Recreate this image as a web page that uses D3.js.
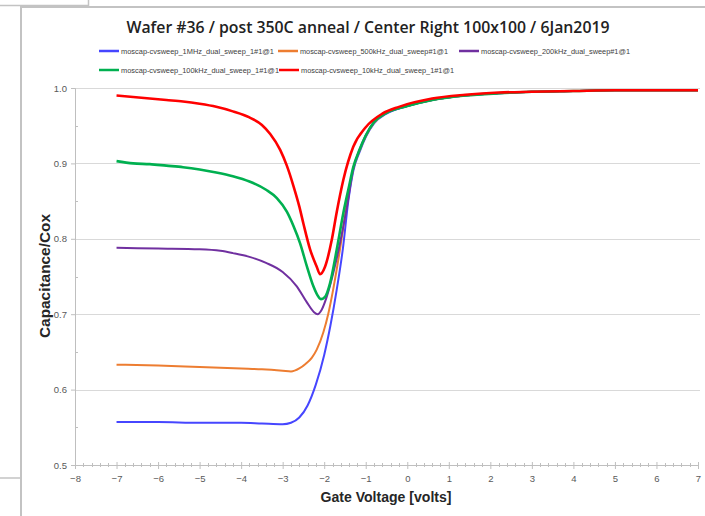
<!DOCTYPE html>
<html>
<head>
<meta charset="utf-8">
<script src="https://cdn.jsdelivr.net/npm/d3@7/dist/d3.min.js"></script>
<style>
  html, body { margin: 0; padding: 0; background: #fff; }
  svg { display: block; }
</style>
</head>
<body>
<svg id="chart" width="705" height="516"></svg>
<script>
// C-V sweeps of a MOS capacitor, normalised capacitance vs gate voltage
const titleText = "Wafer #36 / post 350C anneal / Center Right 100x100 / 6Jan2019";
const xTicks = [-8, -7, -6, -5, -4, -3, -2, -1, 0, 1, 2, 3, 4, 5, 6, 7];
const yTicks = [0.5, 0.6, 0.7, 0.8, 0.9, 1.0];
const seriesNames = [
  "moscap-cvsweep_1MHz_dual_sweep_1#1@1",
  "moscap-cvsweep_500kHz_dual_sweep#1@1",
  "moscap-cvsweep_200kHz_dual_sweep#1@1",
  "moscap-cvsweep_100kHz_dual_sweep_1#1@1",
  "moscap-cvsweep_10kHz_dual_sweep_1#1@1"
];
const seriesColors = ["#4646ff", "#ed7d31", "#7030a0", "#00b050", "#ff0000"];

// 1 MHz
const v1MHz = [-7, -6, -5, -4, -3.5, -3, -2.8, -2.6, -2.4, -2.2, -2.0, -1.85, -1.7, -1.55, -1.42, -1.3, -1.15, -1.0, -0.8, -0.5, 0, 0.6, 1.4, 2.2, 3, 4, 5, 6, 7];
const c1MHz = [0.557, 0.557, 0.556, 0.556, 0.555, 0.554, 0.556, 0.563, 0.579, 0.607, 0.646, 0.685, 0.732, 0.787, 0.850, 0.890, 0.915, 0.935, 0.953, 0.966, 0.976, 0.984, 0.990, 0.993, 0.995, 0.996, 0.997, 0.997, 0.997];
// 500 kHz
const v500k = [-7, -6, -5, -4, -3.5, -3, -2.8, -2.6, -2.45, -2.3, -2.18, -2.02, -1.9, -1.78, -1.62, -1.46, -1.3, -1.15, -1.0, -0.8, -0.5, 0, 0.6, 1.4, 2.2, 3, 4, 5, 6, 7];
const c500k = [0.633, 0.632, 0.630, 0.628, 0.627, 0.625, 0.624, 0.628, 0.634, 0.642, 0.653, 0.676, 0.701, 0.734, 0.786, 0.845, 0.893, 0.917, 0.936, 0.954, 0.967, 0.976, 0.984, 0.990, 0.993, 0.995, 0.996, 0.997, 0.997, 0.997];
// 200 kHz
const v200k = [-7, -6, -5, -4.5, -4.2, -3.8, -3.4, -3.0, -2.66, -2.42, -2.25, -2.16, -2.06, -1.94, -1.78, -1.62, -1.46, -1.3, -1.15, -1.0, -0.8, -0.5, 0, 0.6, 1.4, 2.2, 3, 4, 5, 6, 7];
const c200k = [0.788, 0.787, 0.786, 0.784, 0.781, 0.776, 0.768, 0.756, 0.737, 0.716, 0.703, 0.700, 0.706, 0.723, 0.755, 0.794, 0.840, 0.893, 0.918, 0.937, 0.955, 0.967, 0.976, 0.984, 0.990, 0.993, 0.995, 0.996, 0.997, 0.997, 0.997];
// 100 kHz
const v100k = [-7, -6.6, -6.2, -5.8, -5.4, -5, -4.6, -4.2, -3.8, -3.4, -3.14, -2.9, -2.74, -2.58, -2.42, -2.26, -2.16, -2.08, -1.98, -1.86, -1.70, -1.54, -1.4, -1.3, -1.15, -1.0, -0.8, -0.5, 0, 0.6, 1.4, 2.2, 3, 4, 5, 6, 7];
const c100k = [0.903, 0.900, 0.899, 0.897, 0.895, 0.892, 0.888, 0.883, 0.876, 0.865, 0.854, 0.836, 0.817, 0.794, 0.764, 0.737, 0.725, 0.720, 0.723, 0.741, 0.785, 0.834, 0.870, 0.895, 0.918, 0.937, 0.955, 0.967, 0.976, 0.984, 0.990, 0.993, 0.995, 0.996, 0.997, 0.997, 0.997];
// 10 kHz
const v10k = [-7, -6.6, -6.2, -5.8, -5.4, -5, -4.6, -4.2, -3.8, -3.5, -3.3, -3.06, -2.9, -2.74, -2.6, -2.5, -2.34, -2.18, -2.1, -1.98, -1.82, -1.7, -1.54, -1.3, -1.0, -0.6, -0.2, 0.6, 1.4, 2.2, 3, 4, 5, 6, 7];
const c10k = [0.990, 0.988, 0.986, 0.984, 0.982, 0.979, 0.975, 0.969, 0.961, 0.951, 0.939, 0.918, 0.897, 0.870, 0.843, 0.820, 0.786, 0.763, 0.753, 0.763, 0.798, 0.835, 0.878, 0.922, 0.948, 0.966, 0.975, 0.986, 0.991, 0.994, 0.995, 0.996, 0.997, 0.997, 0.997];

const seriesV = [v1MHz, v500k, v200k, v100k, v10k];
const seriesC = [c1MHz, c500k, c200k, c100k, c10k];
const seriesWidths = [2, 2, 2, 2.6, 2.6];

const svg = d3.select("#chart");
const frame = "#c3c3c3";

// sheet cell borders around the chart object
svg.append("path").attr("d", "M0,5.5H88.5V0").attr("fill", "none").attr("stroke", frame).attr("stroke-width", 1.5);
svg.append("path").attr("d", "M21,516V7H705").attr("fill", "none").attr("stroke", frame).attr("stroke-width", 2);
svg.append("path").attr("d", "M0,478H21").attr("fill", "none").attr("stroke", frame).attr("stroke-width", 1.5);

const x = d3.scaleLinear().domain([-8, 7]).range([75, 698]);
const y = d3.scaleLinear().domain([0.5, 1.0]).range([465, 88]);

// horizontal gridlines
svg.append("g").selectAll("line").data(yTicks.filter(t => t > 0.5)).join("line")
  .attr("x1", x(-8)).attr("x2", x(7) + 2)
  .attr("y1", d => Math.round(y(d)) + 0.5).attr("y2", d => Math.round(y(d)) + 0.5)
  .attr("stroke", "#d9d9d9").attr("stroke-width", 1);

// y axis
const yAxis = d3.axisLeft(y).tickValues(yTicks).tickFormat(d3.format(".1f")).tickSize(4).tickPadding(4);
const gy = svg.append("g").attr("transform", `translate(${x(-8)},0)`).call(yAxis);
gy.select(".domain").attr("stroke", "#bfbfbf");
gy.selectAll(".tick line").attr("stroke", "#bfbfbf");
gy.selectAll(".tick text").attr("fill", "#595959").attr("font-size", "9.5px").attr("font-family", "Liberation Sans, Arial, sans-serif");
// minor y ticks
svg.append("g").selectAll("line").data(d3.range(0.55, 1.0, 0.1)).join("line")
  .attr("x1", x(-8)).attr("x2", x(-8) + 3)
  .attr("y1", d => Math.round(y(d)) + 0.5).attr("y2", d => Math.round(y(d)) + 0.5)
  .attr("stroke", "#bfbfbf");

// x axis
const xAxis = d3.axisBottom(x).tickValues(xTicks).tickFormat(d3.format("d")).tickSize(4).tickPadding(6);
const gx = svg.append("g").attr("transform", `translate(0,${y(0.5)})`).call(xAxis);
gx.select(".domain").attr("stroke", "#bfbfbf");
gx.selectAll(".tick line").attr("stroke", "#bfbfbf").attr("y1", -3);
gx.selectAll(".tick text").attr("fill", "#595959").attr("font-size", "9.5px").attr("font-family", "Liberation Sans, Arial, sans-serif");
// minor x ticks every 0.2 V
svg.append("g").selectAll("line").data(d3.range(-7.8, 7, 0.2).filter(v => Math.abs(v - Math.round(v)) > 0.05)).join("line")
  .attr("x1", d => Math.round(x(d)) + 0.5).attr("x2", d => Math.round(x(d)) + 0.5)
  .attr("y1", y(0.5) - 2).attr("y2", y(0.5) + 2)
  .attr("stroke", "#bfbfbf");

// curves
const line = d3.line().x(d => x(d[0])).y(d => y(d[1])).curve(d3.curveMonotoneX);
seriesV.forEach((vs, i) => {
  const pts = vs.map((v, k) => [v, seriesC[i][k]]);
  svg.append("path").datum(pts)
    .attr("d", line)
    .attr("fill", "none")
    .attr("stroke", seriesColors[i])
    .attr("stroke-width", seriesWidths[i])
    .attr("stroke-linejoin", "round");
});

// title
svg.append("text").attr("x", 368).attr("y", 33).attr("text-anchor", "middle")
  .attr("font-family", "Open Sans, Liberation Sans, sans-serif").attr("font-size", "17px").attr("font-weight", 600)
  .attr("fill", "#222").attr("textLength", 483).attr("lengthAdjust", "spacingAndGlyphs")
  .text(titleText);

// legend
const legendPos = [[99, 51], [278, 51], [459, 51], [99, 70], [279, 70]];
const legendWidths = [153, 148, 149, 158, 153];
seriesNames.forEach((name, i) => {
  const [lx, ly] = legendPos[i];
  svg.append("line").attr("x1", lx).attr("x2", lx + 20).attr("y1", ly).attr("y2", ly)
    .attr("stroke", seriesColors[i]).attr("stroke-width", 2.5);
  svg.append("text").attr("x", lx + 22).attr("y", ly + 2.5)
    .attr("font-family", "Liberation Sans Narrow, Liberation Sans, Arial, sans-serif").attr("font-size", "7.5px")
    .attr("fill", "#404040").attr("textLength", legendWidths[i]).attr("lengthAdjust", "spacingAndGlyphs")
    .text(name);
});

// axis titles
svg.append("text").attr("transform", "translate(50,276) rotate(-90)").attr("text-anchor", "middle")
  .attr("font-family", "Liberation Sans, Arial, sans-serif").attr("font-size", "14px").attr("font-weight", "bold")
  .attr("fill", "#262626").attr("textLength", 124).attr("lengthAdjust", "spacingAndGlyphs")
  .text("Capacitance/Cox");
svg.append("text").attr("x", 386).attr("y", 502).attr("text-anchor", "middle")
  .attr("font-family", "Liberation Sans, Arial, sans-serif").attr("font-size", "14px").attr("font-weight", "bold")
  .attr("fill", "#262626").attr("textLength", 131).attr("lengthAdjust", "spacingAndGlyphs")
  .text("Gate Voltage [volts]");
</script>
</body>
</html>
